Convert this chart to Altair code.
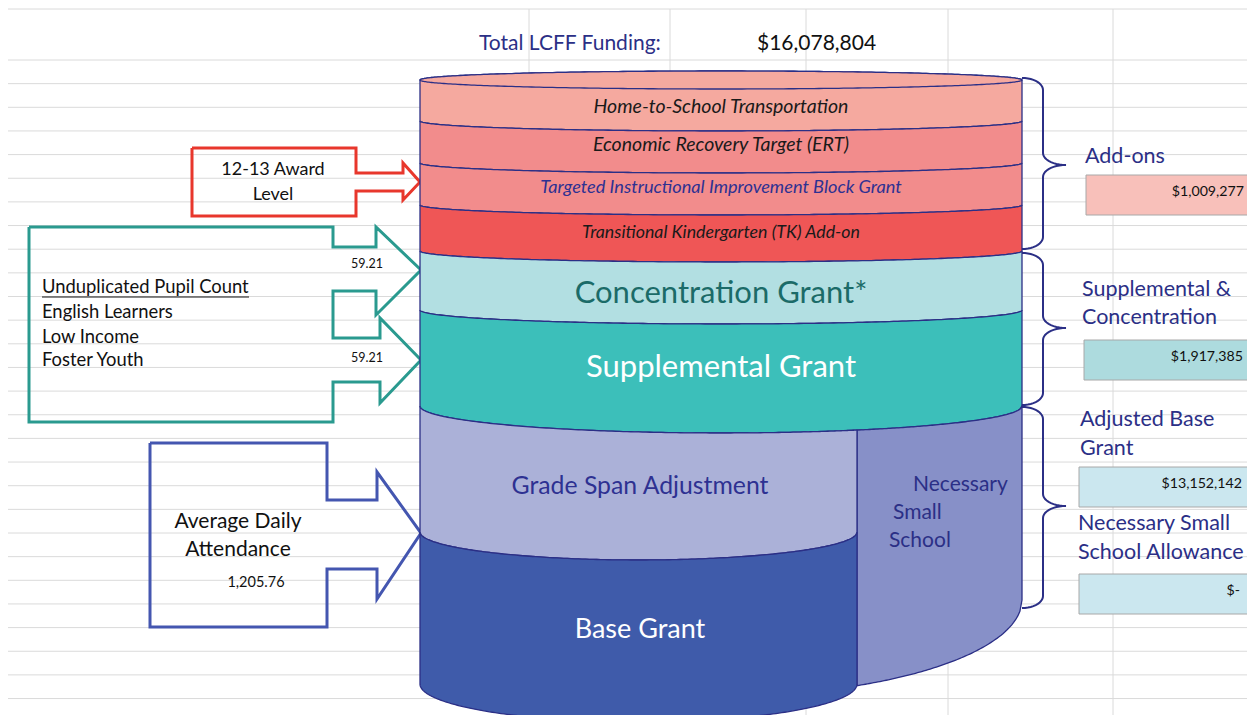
import altair as alt
import numpy as np
import pandas as pd

# ---------------- content ----------------
title_label = "Total LCFF Funding:"
title_value = "$16,078,804"

band_names = ["Home-to-School Transportation", "Economic Recovery Target (ERT)",
              "Targeted Instructional Improvement Block Grant",
              "Transitional Kindergarten (TK) Add-on", "Concentration Grant*",
              "Supplemental Grant"]
band_colors = ["#F5A99F", "#F28C8C", "#F28C8C", "#EF5656", "#B2DFE2", "#3CBFBA"]
band_text_colors = ["#1A1A1A", "#1A1A1A", "#2E3192", "#1A1A1A", "#1B6B68", "#FFFFFF"]

lower_names = ["Grade Span Adjustment", "Base Grant"]
lower_colors = ["#ABB1D8", "#3F5BAA"]
lower_text_colors = ["#2E3192", "#FFFFFF"]
nss_words = ["Necessary", "Small", "School"]
nss_color = "#8790C8"

group_titles = [["Add-ons"], ["Supplemental &", "Concentration"],
                ["Adjusted Base", "Grant"], ["Necessary Small", "School Allowance"]]
group_amounts = ["$1,009,277", "$1,917,385", "$13,152,142", "$-"]
group_fills = ["#F8C0BA", "#ADDBDE", "#CBE7EF", "#CBE7EF"]

upc_lines = ["Unduplicated Pupil Count", "English Learners", "Low Income", "Foster Youth"]
upc_rates = ["59.21", "59.21"]
ada_lines = ["Average Daily", "Attendance"]
ada_value = "1,205.76"
award_lines = ["12-13 Award", "Level"]

# ---------------- layout of the schematic (pixel frame) ----------------
NAVY = "#2B2F86"
FONT = "Lato"
CX, A = 721.0, 301.0            # upper cylinder centre / half width
LCX, LA = 638.5, 218.5          # front (base) piece centre / half width
side_y = [80, 121, 163, 205, 251, 310, 406]
arc_b = [9, 10, 10, 10, 11, 14, 27]
band_text_y = [107, 145, 188, 233, 294, 368]
band_text_size = [19.5, 19.5, 18.2, 17.8, 31, 31]
band_text_style = ["italic", "italic", "italic", "italic", "normal", "normal"]

xs = alt.Scale(domain=[8, 1247], nice=False, zero=False)
ys = alt.Scale(domain=[8, 715], nice=False, zero=False, reverse=True)


def X(f="x"):
    return alt.X(f"{f}:Q", scale=xs, axis=None)


def Y(f="y"):
    return alt.Y(f"{f}:Q", scale=ys, axis=None)


t = np.linspace(0, np.pi, 181)
xu = CX - A * np.cos(t)
su = np.sqrt(np.clip(1 - ((xu - CX) / A) ** 2, 0, 1))

layers = []

# background spreadsheet grid
hy = [9] + [60 + 23.65 * k for k in range(29)]
hgrid = pd.DataFrame({"y": hy, "x": 8, "x2": 1255})
layers.append(alt.Chart(hgrid).mark_rule(color="#DADADA", strokeWidth=1).encode(
    x=X(), x2=alt.X2("x2"), y=Y()))
vgrid = pd.DataFrame({"x": [529, 670, 806, 948, 1113], "y": 9, "y2": 723})
layers.append(alt.Chart(vgrid).mark_rule(color="#DADADA", strokeWidth=1).encode(
    x=X(), y=Y(), y2=alt.Y2("y2")))

# callout outlines
def outline(pts, color):
    df = pd.DataFrame(pts, columns=["x", "y"])
    df["i"] = range(len(df))
    return alt.Chart(df).mark_line(color=color, strokeWidth=3, strokeJoin="miter").encode(
        x=X(), y=Y(), order=alt.Order("i:Q"))

red_pts = [(192, 148), (356, 148), (356, 173), (403, 173), (403, 163), (420, 182),
           (403, 200), (403, 191), (356, 191), (356, 216), (192, 216), (192, 148)]
teal_pts = [(29, 227), (333, 227), (333, 247), (376, 247), (376, 227), (421, 270),
            (376, 315), (376, 291), (333, 291), (333, 338), (380, 338), (380, 318),
            (421, 360), (380, 403), (380, 382), (333, 382), (333, 422), (29, 422), (29, 227)]
blue_pts = [(150, 443), (327, 443), (327, 500), (377, 500), (377, 472), (421, 533),
            (377, 599), (377, 569), (327, 569), (327, 627), (150, 627), (150, 443)]
layers.append(outline(red_pts, "#E8372C"))
layers.append(outline(teal_pts, "#2A9A8F"))
layers.append(outline(blue_pts, "#4456B0"))

# upper cylinder bands
def area(df, color):
    return alt.Chart(df).mark_area(fill=color, stroke=NAVY, strokeWidth=1.3,
                                   opacity=1, fillOpacity=1).encode(
        x=X(), y=Y(), y2=alt.Y2("y2"))

for i, name in enumerate(band_names):
    if i == 0:
        top = side_y[0] - arc_b[0] * su
    else:
        top = side_y[i] + arc_b[i] * su
    bot = side_y[i + 1] + arc_b[i + 1] * su
    layers.append(area(pd.DataFrame({"x": xu, "y": top, "y2": bot}), band_colors[i]))

# top ellipse
layers.append(area(pd.DataFrame({"x": xu, "y": side_y[0] - arc_b[0] * su,
                                 "y2": side_y[0] + arc_b[0] * su}), band_colors[0]))

# lower front piece (grade span + base grant)
xl = LCX - LA * np.cos(t)
sl = np.sqrt(np.clip(1 - ((xl - LCX) / LA) ** 2, 0, 1))
sfu = np.sqrt(np.clip(1 - ((xl - CX) / A) ** 2, 0, 1))
f_top = side_y[-1] + arc_b[-1] * sfu
g_mid = 532 + 28 * sl
h_bot = 684 + 38 * sl

# necessary small school piece
xn = np.linspace(LCX + LA, CX + A, 80)
sn = np.sqrt(np.clip(1 - ((xn - CX) / A) ** 2, 0, 1))
layers.append(area(pd.DataFrame({"x": xn, "y": side_y[-1] + arc_b[-1] * sn,
                                 "y2": 600 + 96 * sn}), nss_color))
layers.append(area(pd.DataFrame({"x": xl, "y": f_top, "y2": g_mid}), lower_colors[0]))
layers.append(area(pd.DataFrame({"x": xl, "y": g_mid, "y2": h_bot}), lower_colors[1]))

# braces
def brace(y0, ym, y1):
    q = np.linspace(0, np.pi / 2, 12)
    pts = []
    pts += list(zip(1022 + 21 * np.sin(q), y0 + 12 - 12 * np.cos(q)))
    pts += list(zip(1066 - 23 * np.cos(q), ym - 12 + 12 * np.sin(q)))
    pts += list(zip(1066 - 23 * np.cos(q[::-1]), ym + 12 - 12 * np.sin(q[::-1])))
    pts += list(zip(1022 + 21 * np.cos(q), y1 - 12 + 12 * np.sin(q)))
    df = pd.DataFrame(pts, columns=["x", "y"])
    df["i"] = range(len(df))
    return alt.Chart(df).mark_line(color=NAVY, strokeWidth=2).encode(
        x=X(), y=Y(), order=alt.Order("i:Q"))

layers.append(brace(78, 165, 249))
layers.append(brace(253, 328, 405))
layers.append(brace(407, 506, 608))

# right value boxes
box_y = [(175, 215), (340, 380), (467, 507), (574, 614)]
box_x = [(1086, 1262), (1084, 1262), (1079, 1250), (1079, 1250)]
boxes = pd.DataFrame({"x": [b[0] for b in box_x], "x2": [b[1] for b in box_x],
                      "y": [b[0] for b in box_y], "y2": [b[1] for b in box_y],
                      "fill": group_fills})
layers.append(alt.Chart(boxes).mark_rect(stroke="#A8A8A8", strokeWidth=1).encode(
    x=X(), x2=alt.X2("x2"), y=Y(), y2=alt.Y2("y2"), fill=alt.Fill("fill:N", scale=None)))

# texts
def text(rows, size, color, align="center", style="normal", weight="normal"):
    df = pd.DataFrame(rows, columns=["x", "y", "t"])
    return alt.Chart(df).mark_text(font=FONT, fontSize=size, color=color, align=align,
                                   baseline="middle", fontStyle=style,
                                   fontWeight=weight).encode(x=X(), y=Y(), text="t:N")

layers.append(text([(479, 44, title_label)], 21, NAVY, align="left"))
layers.append(text([(757, 44, title_value)], 21, "#111111", align="left"))
for i, name in enumerate(band_names):
    layers.append(text([(CX, band_text_y[i], name)], band_text_size[i],
                       band_text_colors[i], style=band_text_style[i]))
layers.append(text([(640, 487, lower_names[0])], 24.8, lower_text_colors[0]))
layers.append(text([(640, 630, lower_names[1])], 27, lower_text_colors[1]))
layers.append(text([(913, 485, nss_words[0]), (893, 513, nss_words[1]),
                    (889, 541, nss_words[2])], 21, NAVY, align="left"))

title_rows = [(1085, 157, group_titles[0][0]),
              (1082, 290, group_titles[1][0]), (1082, 318, group_titles[1][1]),
              (1080, 420, group_titles[2][0]), (1080, 449, group_titles[2][1]),
              (1078, 524, group_titles[3][0]), (1078, 553, group_titles[3][1])]
layers.append(text(title_rows, 21.5, NAVY, align="left"))
amount_rows = [(1244, 192, group_amounts[0]), (1243, 357, group_amounts[1]),
               (1242, 484, group_amounts[2]), (1240, 591, group_amounts[3])]
layers.append(text(amount_rows, 14.2, "#111111", align="right"))

layers.append(text([(42, 287, upc_lines[0]), (42, 312, upc_lines[1]),
                    (42, 337, upc_lines[2]), (42, 360, upc_lines[3])], 18.4, "#111111",
                   align="left"))
ul = pd.DataFrame({"x": [42], "x2": [249], "y": [297]})
layers.append(alt.Chart(ul).mark_rule(color="#111111", strokeWidth=1.2).encode(
    x=X(), x2=alt.X2("x2"), y=Y()))
layers.append(text([(367, 264, upc_rates[0]), (367, 358, upc_rates[1])], 12.5, "#111111"))
layers.append(text([(238, 522, ada_lines[0]), (238, 550, ada_lines[1])], 21, "#111111"))
layers.append(text([(256, 583, ada_value)], 14.5, "#111111"))
layers.append(text([(273, 170, award_lines[0]), (273, 195, award_lines[1])], 18, "#111111"))

chart = alt.layer(*layers).properties(
    width=1239, height=707, padding=0, background="white",
    autosize=alt.AutoSizeParams(type="none")
).configure_view(strokeWidth=0)

chart.save("out.html", embed_options={"renderer": "svg", "actions": False})
